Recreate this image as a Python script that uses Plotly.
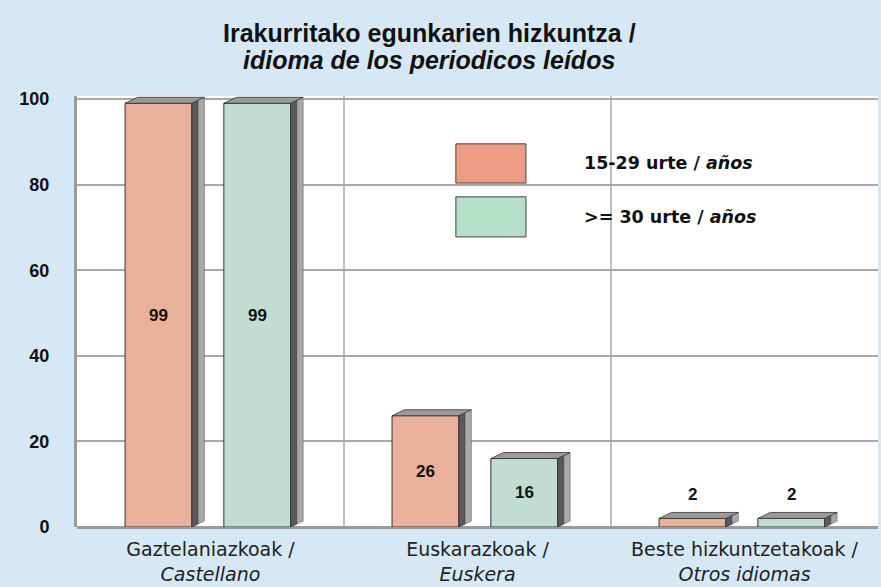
import plotly.graph_objects as go

title_lines = ["Irakurritako egunkarien hizkuntza /", "idioma de los periodicos leídos"]
categories = ["Gaztelaniazkoak /", "Euskarazkoak /", "Beste hizkuntzetakoak /"]
categories_es = ["Castellano", "Euskera", "Otros idiomas"]
series_names = ["15-29 urte / <i>años</i>", ">= 30 urte / <i>años</i>"]
young = [99, 26, 2]
older = [99, 16, 2]
y_ticks = [0, 20, 40, 60, 80, 100]

bar_colors = ["#e9b09c", "#c1dcd0"]
legend_colors = ["#ef9c84", "#b5dfc9"]
offsets = [-0.32, 0.05]
width = 0.25
dx = 0.047   # depth in x units
dy = 1.4     # depth in y units

x_pos = list(range(len(categories)))
fig = go.Figure()

series = [young, older]
for i, vals in enumerate(series):
    fig.add_trace(go.Bar(
        x=x_pos, y=vals, offset=offsets[i], width=width,
        marker=dict(color=bar_colors[i], line=dict(color="#333333", width=1)),
        showlegend=False, hoverinfo="y"))

# 3D faces computed from the data
for i, vals in enumerate(series):
    side_dark_x, side_dark_y = [], []
    side_light_x, side_light_y = [], []
    top_x, top_y = [], []
    for j, v in enumerate(vals):
        x0 = j + offsets[i]
        x1 = x0 + width
        xm = x1 + dx * 0.5
        side_dark_x += [x1, xm, xm, x1, x1, None]
        side_dark_y += [0, dy / 2, v + dy / 2, v, 0, None]
        side_light_x += [xm, x1 + dx, x1 + dx, xm, xm, None]
        side_light_y += [dy / 2, dy, v + dy, v + dy / 2, dy / 2, None]
        top_x += [x0, x0 + dx, x1 + dx, x1, x0, None]
        top_y += [v, v + dy, v + dy, v, v, None]
    fig.add_trace(go.Scatter(x=side_dark_x, y=side_dark_y, fill="toself", mode="lines",
                             fillcolor="#5a5a5a", line=dict(color="#333333", width=0.8),
                             showlegend=False, hoverinfo="skip"))
    fig.add_trace(go.Scatter(x=side_light_x, y=side_light_y, fill="toself", mode="lines",
                             fillcolor="#a8a8a8", line=dict(color="#555555", width=0.5),
                             showlegend=False, hoverinfo="skip"))
    fig.add_trace(go.Scatter(x=top_x, y=top_y, fill="toself", mode="lines",
                             fillcolor="#9a9a9a", line=dict(color="#333333", width=0.8),
                             showlegend=False, hoverinfo="skip"))

# value labels
annotations = []
for i, vals in enumerate(series):
    for j, v in enumerate(vals):
        xc = j + offsets[i] + width / 2
        yv = v / 2 if v > 10 else v + 5.5
        annotations.append(dict(x=xc, y=yv, xref="x", yref="y", text=f"<b>{v}</b>",
                                showarrow=False,
                                font=dict(family="Liberation Sans, Arial", size=17, color="#111111")))

# title
annotations.append(dict(xref="paper", yref="paper", x=0.44, y=1.146, xanchor="center", yanchor="middle",
                        showarrow=False, text=f"<b>{title_lines[0]}</b>",
                        font=dict(family="Liberation Sans, Arial", size=25, color="#111111")))
annotations.append(dict(xref="paper", yref="paper", x=0.44, y=1.0835, xanchor="center", yanchor="middle",
                        showarrow=False, text=f"<b><i>{title_lines[1]}</i></b>",
                        font=dict(family="Liberation Sans, Arial", size=25, color="#111111")))

# legend (custom)
leg_boxes = [(0.889, 0.798), (0.766, 0.673)]
shapes = []
for k, (yt, yb) in enumerate(leg_boxes):
    shapes.append(dict(type="rect", xref="paper", yref="paper", x0=0.473, x1=0.5605,
                       y0=yb, y1=yt, fillcolor=legend_colors[k],
                       line=dict(color="#444444", width=1)))
    annotations.append(dict(xref="paper", yref="paper", x=0.630, y=(yt + yb) / 2,
                            xanchor="left", yanchor="middle", showarrow=False,
                            text=f"<b>{series_names[k]}</b>",
                            font=dict(family="DejaVu Sans", size=17.5, color="#111111")))

# vertical separators between categories
for b in [0.5, 1.5]:
    shapes.append(dict(type="line", xref="x", yref="paper", x0=b, x1=b, y0=0, y1=1,
                       line=dict(color="#a8a8a8", width=1.5), layer="below"))

fig.update_layout(
    width=881, height=587,
    paper_bgcolor="#d6e8f5", plot_bgcolor="#ffffff",
    margin=dict(l=77, r=3, t=96, b=60),
    barmode="overlay",
    xaxis=dict(range=[-0.5, 2.5], tickmode="array", tickvals=x_pos,
               ticktext=[f"{a}<br><i>{b}</i>" for a, b in zip(categories, categories_es)],
               tickfont=dict(family="DejaVu Sans", size=19, color="#222222"),
               showgrid=False, zeroline=False, showline=False, ticks="", automargin=False,
               ticklabelstandoff=9),
    yaxis=dict(range=[0, 100.7], tickmode="array", tickvals=y_ticks,
               tickfont=dict(family="Liberation Sans, Arial", size=18, color="#111111", weight="bold"),
               showgrid=True, gridcolor="#a8a8a8", gridwidth=1.5,
               zeroline=True, zerolinecolor="#9a9a9a", zerolinewidth=3,
               showline=True, linecolor="#9a9a9a", linewidth=3,
               ticklabelstandoff=21, automargin=False),
    annotations=annotations, shapes=shapes,
)
fig.write_html("out.html", config={"displayModeBar": False},
               post_script="document.body.style.margin='0';document.body.style.overflow='hidden';"
                           "document.body.style.background='#d6e8f5';")
